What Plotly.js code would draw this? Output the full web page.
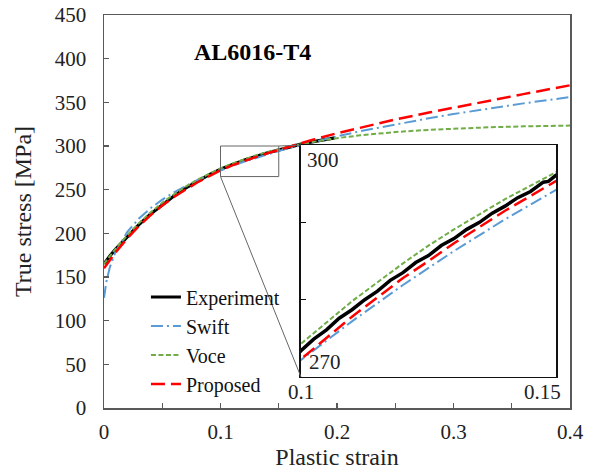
<!DOCTYPE html>
<html>
<head>
<meta charset="utf-8">
<script src="https://cdn.plot.ly/plotly-3.0.1.min.js"></script>
<style>html,body{margin:0;padding:0;background:#fff;}#chart{width:595px;height:475px;}</style>
</head>
<body>
<div id="chart"></div>
<script>
// ---- data ----
var expStrain = [0,0.002,0.005,0.01,0.015,0.02,0.025,0.03,0.04,0.05,0.06,0.07,0.08,0.09,
  0.1,0.1025,0.105,0.1075,0.11,0.1125,0.115,0.1175,0.12,0.1225,0.125,0.1275,0.13,0.1325,0.135,0.1375,0.14,0.1425,0.145,0.1475,0.1485,0.15,
  0.155,0.16,0.165,0.17,0.175,0.18,0.185,0.19,0.195,0.198];
var expStress = [165,169,174,182,189.2,196.5,203.5,210,222.3,233,242.8,251.8,259.8,267.0,
  273.4,274.9,276.1,277.6,278.7,280.0,281.1,282.5,283.5,284.8,285.7,287.0,287.9,289.1,290.0,291.2,292.1,293.2,294.0,295.2,295.3,296.1,
  297.8,299.4,300.9,302.4,303.8,305.1,306.4,307.6,308.7,309.3];

var fitStrain = [0,0.002,0.005,0.01,0.02,0.03,0.04,0.05,0.06,0.07,0.08,0.09,0.10,0.11,0.12,0.125,0.13,0.14,0.15,0.16,0.18,0.20,0.22,0.25,0.28,0.30,0.33,0.36,0.40];
var swiftStress = [126.1,144.4,161.1,179.1,201.6,217.0,228.8,238.6,246.9,254.3,260.8,266.7,272.2,277.2,281.9,284.1,286.3,290.4,294.3,298.0,304.9,311.1,316.9,324.9,332.1,336.6,342.9,348.8,356.0];
var voceStress = [165,168.6,173.9,182.4,197.9,211.7,224,235,244.7,253.5,261.2,268.2,274.3,279.8,284.7,287.0,289.1,293.0,296.5,299.6,304.8,309.0,312.2,316.0,318.6,319.9,321.4,322.5,323.4];
var proposedStress = [160,163.9,169.4,178.3,194.3,208.4,220.8,231.8,241.6,250.3,258.2,265.2,272.3,277.8,282.8,285.0,287.3,291.5,295.5,299.6,307.4,314.6,321.2,330.3,338.6,344,351.8,359.4,369.5];

var seriesNames = ['Experiment','Swift','Voce','Proposed'];
var xTickVals = [0,0.1,0.2,0.3,0.4];
var xTickText = ['0','0.1','0.2','0.3','0.4'];
var yTickVals = [0,50,100,150,200,250,300,350,400,450];
var insetXRange = [0.1,0.15];
var insetYRange = [270,300];
var insetXLabels = ['0.1','0.15'];
var insetYLabels = ['300','270'];
var zoomBoxY = [265,300];

// ---- styling ----
var FONT = 'Liberation Serif, Times New Roman, serif';
var AX = '#595959';
var TXT = '#222';
var styles = [
  {color:'#000000', width:3.2, dash:'solid'},
  {color:'#5B9BD5', width:2, dash:'12px,4px,2px,4px'},
  {color:'#70AD47', width:2, dash:'5px,2.5px'},
  {color:'#FF0000', width:2.5, dash:'14px,6px'}
];
var xs = [expStrain, fitStrain, fitStrain, fitStrain];
var ys = [expStress, swiftStress, voceStress, proposedStress];

var traces = [];
for (var i = 0; i < 4; i++) {
  traces.push({x: xs[i], y: ys[i], type:'scatter', mode:'lines', xaxis:'x2', yaxis:'y2',
    line:{color:styles[i].color, width: i===0 ? 3.5 : styles[i].width, dash:styles[i].dash}, showlegend:false, hoverinfo:'skip'});
}
for (var j = 0; j < 4; j++) {
  traces.push({x: xs[j], y: ys[j], type:'scatter', mode:'lines', name: seriesNames[j],
    line:{color:styles[j].color, width:styles[j].width, dash:styles[j].dash}});
}

var mainX = [0,0.4], mainY = [0,450];
var insetDomX = [0.4227,0.970], insetDomY = [0.0789,0.669];
function px(v){ return (v-mainX[0])/(mainX[1]-mainX[0]); }
function py(v){ return (v-mainY[0])/(mainY[1]-mainY[0]); }
function ipx(v){ return insetDomX[0] + (v-insetXRange[0])/(insetXRange[1]-insetXRange[0])*(insetDomX[1]-insetDomX[0]); }
function ipy(v){ return insetDomY[0] + (v-insetYRange[0])/(insetYRange[1]-insetYRange[0])*(insetDomY[1]-insetDomY[0]); }

var layout = {
  width:595, height:475,
  margin:{l:104, r:25, t:15, b:67},
  paper_bgcolor:'#ffffff', plot_bgcolor:'#ffffff',
  font:{family:FONT, size:21, color:TXT},
  showlegend:true,
  legend:{x:0.09, y:0.332, xanchor:'left', yanchor:'top', bgcolor:'rgba(0,0,0,0)',
    font:{family:FONT, size:20, color:'#111'}, tracegroupgap:0},
  xaxis:{domain:[0,1], range:mainX, tickvals:xTickVals, ticktext:xTickText,
    ticks:'inside', ticklen:5, tickcolor:AX, tickwidth:1.3,
    minor:{dtick:0.05, tick0:0, ticks:'inside', ticklen:5, tickcolor:AX, tickwidth:1.3, showgrid:false},
    showline:true, linecolor:AX, linewidth:1.5, mirror:true, showgrid:false, zeroline:false,
    ticklabelstandoff:4, tickfont:{family:FONT, size:21, color:TXT},
    title:{text:'Plastic strain', font:{family:FONT, size:24, color:TXT}, standoff:4}},
  yaxis:{domain:[0,1], range:mainY, tickvals:yTickVals,
    ticks:'inside', ticklen:5, tickcolor:AX, tickwidth:1.3,
    showline:true, linecolor:AX, linewidth:1.5, mirror:true, showgrid:false, zeroline:false,
    ticklabelstandoff:12, tickfont:{family:FONT, size:21, color:TXT},
    title:{text:'True stress [MPa]', font:{family:FONT, size:24, color:TXT}, standoff:16}},
  xaxis2:{domain:insetDomX, anchor:'y2', range:insetXRange, showticklabels:false,
    ticks:'', showline:true, linecolor:'#111', linewidth:1.5, mirror:true, showgrid:false, zeroline:false},
  yaxis2:{domain:insetDomY, anchor:'x2', range:insetYRange, tickvals:[280,290], showticklabels:false,
    ticks:'inside', ticklen:5, tickcolor:'#111', tickwidth:1,
    showline:true, linecolor:'#111', linewidth:1.5, mirror:true, showgrid:false, zeroline:false},
  shapes:[
    {type:'rect', xref:'x', yref:'y', x0:insetXRange[0], x1:insetXRange[1], y0:zoomBoxY[0], y1:zoomBoxY[1],
      line:{color:'#666', width:1}},
    {type:'line', xref:'paper', yref:'paper', x0:px(insetXRange[0]), y0:py(zoomBoxY[0]), x1:ipx(insetXRange[0]), y1:ipy(insetYRange[0]),
      line:{color:'#666', width:1}},
    {type:'line', xref:'paper', yref:'paper', x0:px(insetXRange[1]), y0:py(zoomBoxY[1]), x1:ipx(insetXRange[0]), y1:ipy(insetYRange[1]),
      line:{color:'#666', width:1}}
  ],
  annotations:[
    {text:'<b>AL6016-T4</b>', xref:'paper', yref:'paper', x:0.3187, y:0.906, xanchor:'center', yanchor:'middle', showarrow:false,
      font:{family:FONT, size:24, color:'#000'}},
    {text:insetYLabels[0], xref:'x2 domain', yref:'y2 domain', x:0.015, y:0.995, xanchor:'left', yanchor:'top', showarrow:false,
      font:{family:FONT, size:21, color:TXT}},
    {text:insetYLabels[1], xref:'x2 domain', yref:'y2 domain', x:0.025, y:0.005, xanchor:'left', yanchor:'bottom', showarrow:false,
      font:{family:FONT, size:21, color:TXT}},
    {text:insetXLabels[0], xref:'x2 domain', yref:'y2 domain', x:0, y:0, xanchor:'center', yanchor:'top', yshift:-1, showarrow:false,
      font:{family:FONT, size:21, color:TXT}},
    {text:insetXLabels[1], xref:'x2 domain', yref:'y2 domain', x:1, y:0, xanchor:'right', xshift:7, yanchor:'top', yshift:-1, showarrow:false,
      font:{family:FONT, size:21, color:TXT}}
  ]
};

Plotly.newPlot('chart', traces, layout, {displayModeBar:false, staticPlot:true});
</script>
</body>
</html>
